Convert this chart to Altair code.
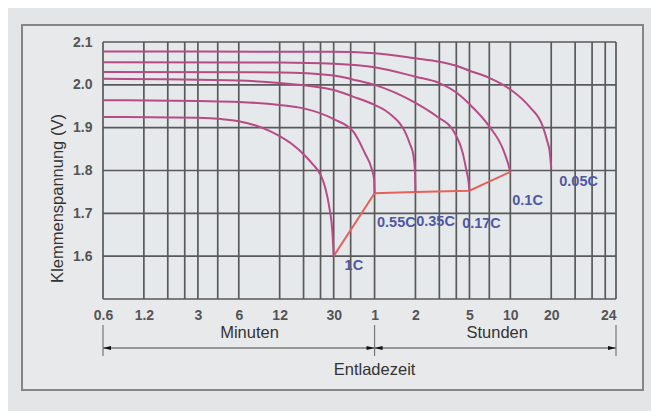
import altair as alt
import pandas as pd

# ---------------- data (time in minutes on a log axis, voltage in V) ----------------
x_domain = [0.6, 3600]
y_domain = [1.5, 2.1]

x_grid = [0.6, 1.2, 1.8, 2.4, 3, 4.2, 6, 12, 18, 24, 30, 40, 60,
          120, 180, 240, 300, 420, 600, 1200, 1800, 2400, 3000, 3600]
y_grid = [1.5, 1.6, 1.7, 1.8, 1.9, 2.0, 2.1]
y_ticks = [1.6, 1.7, 1.8, 1.9, 2.0, 2.1]
x_tick_vals = [0.6, 1.2, 3, 6, 12, 30, 60, 120, 300, 600, 1200, 3600]
x_tick_text = ["0.6", "1.2", "3", "6", "12", "30", "1", "2", "5", "10", "20", "24"]

rates = ["1C", "0.55C", "0.35C", "0.17C", "0.1C", "0.05C"]

t_1c = [0.6, 3, 4.5, 6, 8, 10, 12, 15, 18, 21, 24, 26, 28, 29.3, 30]
v_1c = [1.925, 1.923, 1.920, 1.915, 1.905, 1.893, 1.880, 1.860, 1.838, 1.815, 1.790,
        1.760, 1.710, 1.660, 1.600]

t_055 = [0.6, 3, 6, 12, 18, 30, 42, 51, 57, 59.5, 60]
v_055 = [1.964, 1.962, 1.960, 1.953, 1.945, 1.920, 1.890, 1.840, 1.805, 1.78, 1.747]

t_035 = [0.6, 6, 12, 30, 42, 60, 72, 82, 92, 100, 109, 116, 119, 120]
v_035 = [2.014, 2.010, 2.004, 1.988, 1.972, 1.953, 1.940, 1.926, 1.910, 1.892, 1.863, 1.835, 1.80, 1.750]

t_017 = [0.6, 12, 30, 42, 60, 120, 175, 226, 268, 285, 295, 300]
v_017 = [2.030, 2.029, 2.022, 2.012, 2.000, 1.958, 1.925, 1.895, 1.840, 1.800, 1.775, 1.753]

t_01 = [0.6, 12, 30, 60, 120, 180, 240, 300, 420, 528, 575, 600]
v_01 = [2.053, 2.052, 2.049, 2.041, 2.019, 2.004, 1.982, 1.955, 1.903, 1.851, 1.818, 1.797]

t_005 = [0.6, 28, 60, 120, 180, 237, 300, 415, 596, 830, 1040, 1132, 1165, 1200]
v_005 = [2.078, 2.077, 2.074, 2.062, 2.054, 2.045, 2.033, 2.017, 1.990, 1.949, 1.903, 1.864, 1.848, 1.805]

end_t = [30, 60, 120, 300, 600]
end_v = [1.600, 1.747, 1.750, 1.753, 1.797]

label_t = [36.1, 62.5, 121.5, 265, 620, 1375]
label_v = [1.578, 1.678, 1.679, 1.675, 1.7285, 1.773]

unit_t = [7.2, 480]
unit_text = ["Minuten", "Stunden"]
span_start = [0.6, 60]
span_end = [60, 3600]
span_marks = [0.6, 60, 3600]

# ---------------- tables ----------------
curve_t = [t_1c, t_055, t_035, t_017, t_01, t_005]
curve_v = [v_1c, v_055, v_035, v_017, v_01, v_005]
rows = []
for name, ts, vs in zip(rates, curve_t, curve_v):
    for i, (t, v) in enumerate(zip(ts, vs)):
        rows.append({"rate": name, "i": i, "t": t, "v": v})
curves_df = pd.DataFrame(rows)
end_df = pd.DataFrame({"t": end_t, "v": end_v, "i": range(len(end_t))})
labels_df = pd.DataFrame({"t": label_t, "v": label_v, "rate": rates})

BG = "#e4e5e7"
GRID = "#595959"
FONT = "Liberation Sans"

xs = alt.Scale(type="log", domain=x_domain, nice=False)
ys = alt.Scale(domain=y_domain, nice=False, zero=False)

label_expr = "[" + ",".join("'%s'" % s for s in x_tick_text) + "][indexof([" + \
    ",".join(str(v) for v in x_tick_vals) + "], datum.value)]"

x_axis = alt.Axis(
    values=x_tick_vals, labelExpr=label_expr, grid=False, ticks=False, domain=False,
    labelPadding=9, labelFontSize=14, labelFontWeight="bold", labelColor="#555555",
    labelFont=FONT, title=None, labelFlush=False, labelOverlap=False, zindex=2,
    labelAlign=alt.condition("datum.value >= 3600", alt.value("right"), alt.value("center")))
y_axis = alt.Axis(
    values=y_ticks, format=".1f", grid=False, ticks=False, domain=False,
    labelPadding=11, labelFontSize=14, labelFontWeight="bold", labelColor="#555555",
    labelFont=FONT, title="Klemmenspannung (V)", titleFont=FONT, titleFontSize=16.5,
    titleFontWeight="normal", titleColor="#333333", titleX=-46, titleY=156,
    titleAngle=270, titleAlign="center", titleBaseline="middle", zindex=2)

one = pd.DataFrame({"a": [0]})

frame = alt.Chart(one).mark_rect(fill="#e8e9eb", stroke="#858585", strokeWidth=2).encode(
    x=alt.value(-81), x2=alt.value(540), y=alt.value(-17), y2=alt.value(348))
plotbg = alt.Chart(one).mark_rect(fill="#e6e9ec").encode(
    x=alt.value(0), x2=alt.value(513), y=alt.value(0), y2=alt.value(257))

vgrid = alt.Chart(pd.DataFrame({"t": x_grid})).mark_rule(color=GRID, strokeWidth=1.7).encode(
    x=alt.X("t:Q", scale=xs, axis=x_axis))
hgrid = alt.Chart(pd.DataFrame({"v": y_grid})).mark_rule(color=GRID, strokeWidth=1.7).encode(
    y=alt.Y("v:Q", scale=ys, axis=y_axis))

lines = alt.Chart(curves_df).mark_line(color="#b84a86", strokeWidth=2, interpolate="monotone").encode(
    x=alt.X("t:Q", scale=xs),
    y=alt.Y("v:Q", scale=ys),
    detail="rate:N", order="i:Q")

endline = alt.Chart(end_df).mark_line(color="#e5625a", strokeWidth=2).encode(
    x=alt.X("t:Q", scale=xs), y=alt.Y("v:Q", scale=ys), order="i:Q")

labels = alt.Chart(labels_df).mark_text(align="left", baseline="middle", font=FONT,
                                        fontSize=14.5, fontWeight="bold", color="#4f58a3").encode(
    x=alt.X("t:Q", scale=xs), y=alt.Y("v:Q", scale=ys), text="rate:N")

units = alt.Chart(pd.DataFrame({"t": unit_t, "txt": unit_text})).mark_text(
    align="center", baseline="middle", font=FONT, fontSize=16.5, color="#333333").encode(
    x=alt.X("t:Q", scale=xs), y=alt.value(291), text="txt:N")
entl = alt.Chart(pd.DataFrame({"t": [60], "txt": ["Entladezeit"]})).mark_text(
    align="center", baseline="middle", font=FONT, fontSize=16.5, color="#333333").encode(
    x=alt.X("t:Q", scale=xs), y=alt.value(328), text="txt:N")

spans = alt.Chart(pd.DataFrame({"t0": span_start, "t1": span_end})).mark_rule(
    color="#444444", strokeWidth=1).encode(
    x=alt.X("t0:Q", scale=xs), x2="t1:Q", y=alt.value(306))
ticks = alt.Chart(pd.DataFrame({"t": span_marks})).mark_rule(color="#777777", strokeWidth=1.2).encode(
    x=alt.X("t:Q", scale=xs), y=alt.value(283), y2=alt.value(314))
head_l = alt.Chart(pd.DataFrame({"t": [0.6, 60]})).mark_point(
    shape="M0,0L2,-0.5L2,0.5Z", filled=True, color="#111111", size=64, opacity=1).encode(
    x=alt.X("t:Q", scale=xs), y=alt.value(306))
head_r = alt.Chart(pd.DataFrame({"t": [60, 3600]})).mark_point(
    shape="M0,0L-2,-0.5L-2,0.5Z", filled=True, color="#111111", size=64, opacity=1).encode(
    x=alt.X("t:Q", scale=xs), y=alt.value(306))

chart = alt.layer(frame, plotbg, vgrid, hgrid, endline, lines, labels, units, entl,
                  spans, ticks, head_l, head_r).properties(
    width=513, height=257,
    autosize=alt.AutoSizeParams(type="none"),
    padding={"left": 95, "top": 34, "right": 35, "bottom": 112},
    background=BG,
).configure_view(stroke=None)

chart.save("out.html", embed_options={"renderer": "svg", "actions": False})
